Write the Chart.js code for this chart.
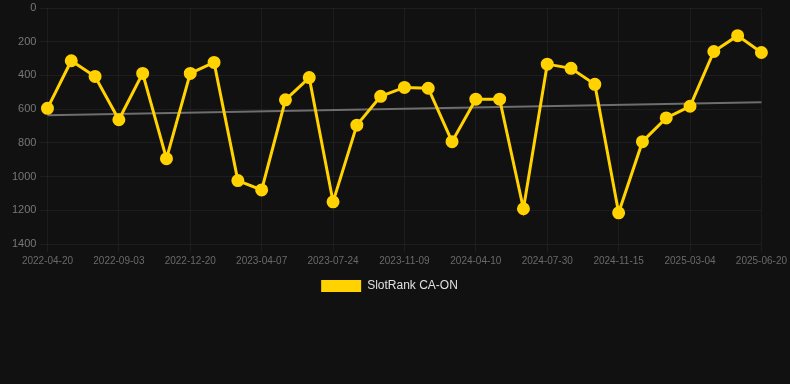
<!DOCTYPE html>
<html>
<head>
<meta charset="utf-8">
<script src="https://cdn.jsdelivr.net/npm/chart.js@4/dist/chart.umd.min.js"></script>
<style>
    html, body { margin: 0; padding: 0; background: #111111; }
    .chart-wrap { position: relative; width: 790px; height: 302px; }
</style>
</head>
<body>
<div class="chart-wrap">
    <canvas id="rank-chart"></canvas>
</div>
<script>
const DATES = [
    '2022-04-20', '2022-06-04', '2022-07-19', '2022-09-03', '2022-10-09', '2022-11-14',
    '2022-12-20', '2023-01-25', '2023-03-02', '2023-04-07', '2023-05-13', '2023-06-18',
    '2023-07-24', '2023-08-29', '2023-10-04', '2023-11-09', '2023-12-30', '2024-02-19',
    '2024-04-10', '2024-05-17', '2024-06-23', '2024-07-30', '2024-09-04', '2024-10-10',
    '2024-11-15', '2024-12-21', '2025-01-27', '2025-03-04', '2025-04-09', '2025-05-15',
    '2025-06-20'
];

const RANKS = [
    595, 313, 406, 663, 388, 894, 388, 323, 1024, 1079, 545, 413,
    1150, 695, 524, 471, 476, 793, 541, 541, 1191, 333, 358, 453,
    1215, 793, 652, 583, 258, 164, 264
];

// trend line end values
const TREND_START = 636;
const TREND_END = 559;

const Y_TICKS = { min: 0, max: 1400, step: 200 };

const trendData = DATES.map((d, i) => {
    if (i === 0) return TREND_START;
    if (i === DATES.length - 1) return TREND_END;
    return null;
});

const FONT = 'Arial, "Liberation Sans", sans-serif';
const ctx = document.getElementById('rank-chart');

new Chart(ctx, {
    type: 'line',
    data: {
        labels: DATES,
        datasets: [
            {
                label: 'SlotRank CA-ON',
                data: RANKS,
                borderColor: '#FFD200',
                backgroundColor: '#FFD200',
                borderWidth: 3,
                pointRadius: 5,
                pointHoverRadius: 5,
                pointBackgroundColor: '#FFD200',
                pointBorderColor: '#FFD200',
                tension: 0,
                order: 1
            },
            {
                label: 'Trend',
                data: trendData,
                borderColor: '#6e6e6e',
                borderWidth: 2,
                pointRadius: 0,
                spanGaps: true,
                fill: false,
                order: 2
            }
        ]
    },
    options: {
        responsive: true,
        maintainAspectRatio: false,
        animation: false,
        layout: { padding: { left: 9, right: 20 } },
        plugins: {
            tooltip: { enabled: false },
            legend: {
                position: 'bottom',
                labels: {
                    color: '#e0e0e0',
                    boxWidth: 40,
                    font: { family: FONT, size: 12 },
                    generateLabels: chart => Chart.defaults.plugins.legend.labels
                        .generateLabels(chart)
                        .filter(item => item.text !== 'Trend')
                        .map(item => ({ ...item, lineWidth: 0 }))
                }
            }
        },
        scales: {
            x: {
                grid: { color: 'rgba(255,255,255,0.05)' },
                border: { display: false },
                ticks: {
                    color: '#6a6a6a',
                    autoSkip: false,
                    maxRotation: 0,
                    font: { family: FONT, size: 10 },
                    callback: function (val, idx) {
                        return idx % 3 === 0 ? this.getLabelForValue(val) : null;
                    }
                }
            },
            y: {
                reverse: true,
                min: Y_TICKS.min,
                max: Y_TICKS.max,
                grid: { color: 'rgba(255,255,255,0.05)' },
                border: { display: false },
                ticks: {
                    stepSize: Y_TICKS.step,
                    color: '#777777',
                    font: { family: FONT, size: 11, lineHeight: 0.25 },
                    callback: v => String(v)
                }
            }
        }
    }
});
</script>
</body>
</html>
